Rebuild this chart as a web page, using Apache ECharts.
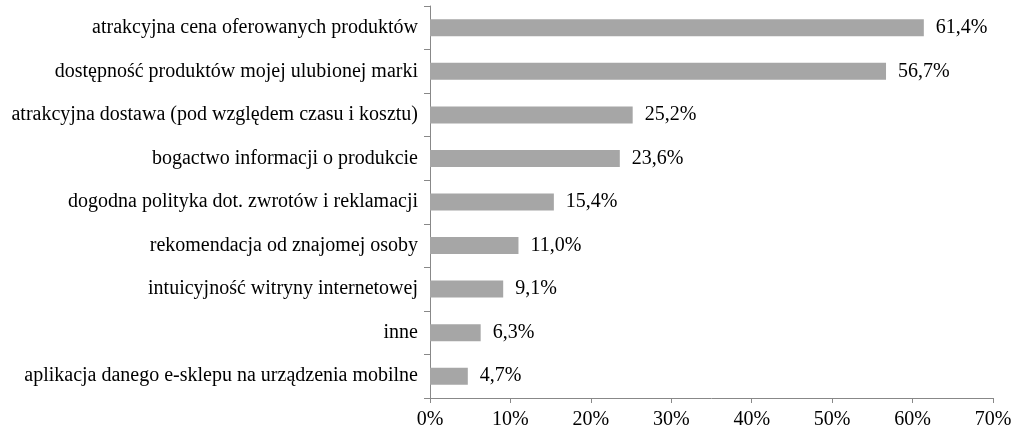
<!DOCTYPE html>
<html>
<head>
<meta charset="utf-8">
<script src="https://cdn.jsdelivr.net/npm/echarts@6/dist/echarts.min.js"></script>
<style>
html, body { margin: 0; padding: 0; background: #fff; }
#chart { width: 1019px; height: 431px; }
</style>
</head>
<body>
<div id="chart"></div>
<script>
// top to bottom as in the picture
var categories = [
    'atrakcyjna cena oferowanych produktów',
    'dostępność produktów mojej ulubionej marki',
    'atrakcyjna dostawa (pod względem czasu i kosztu)',
    'bogactwo informacji o produkcie',
    'dogodna polityka dot. zwrotów i reklamacji',
    'rekomendacja od znajomej osoby',
    'intuicyjność witryny internetowej',
    'inne',
    'aplikacja danego e-sklepu na urządzenia mobilne'
];
var values = [61.4, 56.7, 25.2, 23.6, 15.4, 11.0, 9.1, 6.3, 4.7];

var dom = document.getElementById('chart');
var myChart = echarts.init(dom);
var font = '"Liberation Serif", "Times New Roman", serif';

var option = {
    animation: false,
    textStyle: { fontFamily: font },
    grid: {
        left: 430,
        right: 26,
        top: 6,
        bottom: 33
    },
    xAxis: {
        type: 'value',
        min: 0,
        max: 70,
        interval: 10,
        axisLine: { show: true, lineStyle: { color: '#888', width: 1 } },
        axisTick: { show: true, length: 5, lineStyle: { color: '#888' } },
        splitLine: { show: false },
        axisLabel: {
            color: '#000',
            fontFamily: font,
            fontSize: 20,
            margin: 12,
            formatter: '{value}%'
        }
    },
    yAxis: {
        type: 'category',
        inverse: true,
        data: categories,
        axisLine: { show: true, lineStyle: { color: '#888', width: 1 } },
        axisTick: { show: true, length: 6, lineStyle: { color: '#888' } },
        axisLabel: {
            color: '#000',
            fontFamily: font,
            fontSize: 20,
            margin: 12
        }
    },
    series: [
        {
            type: 'bar',
            data: values,
            barCategoryGap: '61%',
            itemStyle: { color: '#a6a6a6' },
            label: {
                show: true,
                position: 'right',
                distance: 12,
                color: '#000',
                fontFamily: font,
                fontSize: 20,
                formatter: function (p) {
                    return p.value.toFixed(1).replace('.', ',') + '%';
                }
            }
        }
    ]
};

myChart.setOption(option, true);
</script>
</body>
</html>
